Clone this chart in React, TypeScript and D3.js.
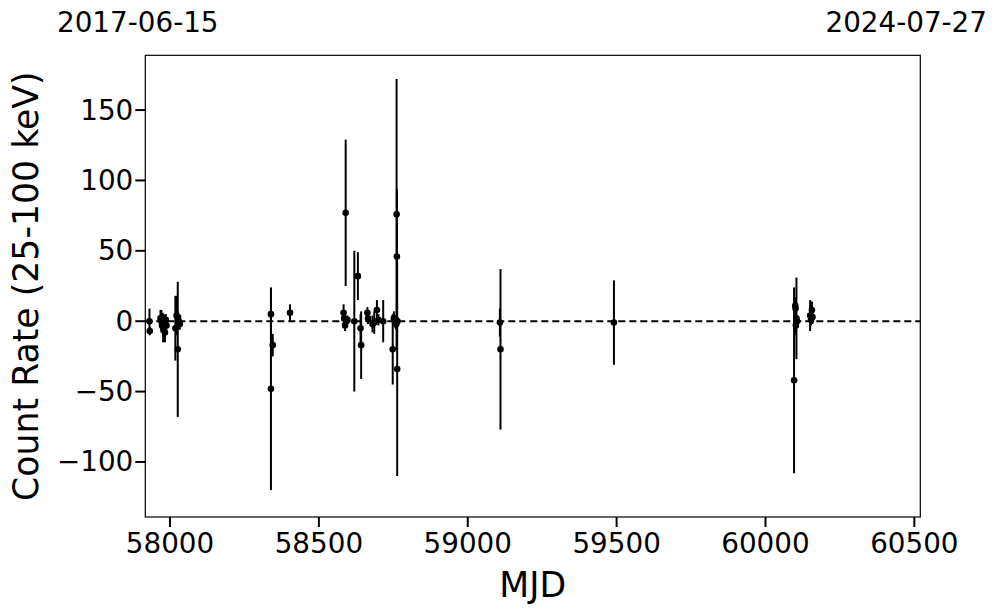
import React from "react";
import * as d3 from "d3";

const mjd = [
  57931, 57932, 57968, 57971, 57973, 57975, 57977, 57980, 57983, 57986, 57988,
  58018, 58022, 58026, 58027, 58030, 58033,
  58339, 58339, 58345, 58403,
  58583, 58585, 58588, 58590, 58592, 58596, 58619, 58631, 58640, 58642,
  58663, 58665, 58680, 58686, 58695, 58700, 58716,
  58748, 58752, 58755, 58757, 58759, 58760, 58761, 58762, 58763, 58764,
  59108, 59110, 59491,
  60096, 60100, 60101, 60102, 60104, 60106, 60150, 60153, 60156, 60158,
];
const rate = [
  0, -7, 2, 0, -3, 3, -5, -1, -8, 1, -3,
  -5, 4, -20, 3, 0, -2,
  5, -48, -17, 6,
  6, 2, -3, 77, 0, 1, 0, 32, -5, -17,
  6, 2, -2, -1, 8, 1, 0,
  -20, 2, 0, -1, 1, -2, 76, 46, -34, 0,
  -1, -20, -1,
  -42, 11, 9, -3, 2, 0, 4, 1, 8, 3,
];
const err = [
  9, 3, 6, 8, 5, 3, 10, 4, 7, 4, 3,
  23, 14, 48, 4, 3, 4,
  18, 72, 8, 6,
  6, 4, 4, 52, 3, 3, 50, 17, 10, 24,
  4, 4, 6, 8, 7, 4, 15,
  25, 5, 3, 4, 3, 4, 96, 48, 76, 3,
  10, 57, 30,
  66, 6, 5, 7, 29, 4, 11, 4, 6, 5,
];
const xTicks = [58000, 58500, 59000, 59500, 60000, 60500];
const yTicks = [-100, -50, 0, 50, 100, 150];
const startDate = "2017-06-15";
const endDate = "2024-07-27";

const W = 997;
const H = 613;
const left = 145.3;
const right = 920.3;
const top = 55.3;
const bottom = 517;
const FONT = "DejaVu Sans, sans-serif";

export default function App() {
  const x = d3.scaleLinear().domain([57917, 60520]).range([left, right]);
  const y = d3.scaleLinear().domain([-139.1, 188.9]).range([bottom, top]);
  const fmt = (v: number) => (v < 0 ? "\u2212" + Math.abs(v) : String(v));
  const tickLen = 10;
  const tickFont = 27.8;
  return (
    <svg width={W} height={H} style={{ position: "absolute", left: 0, top: 0, background: "#fff" }}>
      <rect x={0} y={0} width={W} height={H} fill="#fff" />
      <line x1={left} x2={right} y1={y(0)} y2={y(0)} stroke="#000" strokeWidth={2} strokeDasharray="7,4" />
      {mjd.map((m, i) => (
        <line key={"e" + i} x1={x(m)} x2={x(m)} y1={y(rate[i] + err[i])} y2={y(rate[i] - err[i])} stroke="#000" strokeWidth={2} />
      ))}
      {mjd.map((m, i) => (
        <circle key={"p" + i} cx={x(m)} cy={y(rate[i])} r={3.3} fill="#000" />
      ))}
      <rect x={left} y={top} width={right - left} height={bottom - top} fill="none" stroke="#000" strokeWidth={1.2} />
      {xTicks.map((t) => (
        <g key={"xt" + t}>
          <line x1={x(t)} x2={x(t)} y1={bottom} y2={bottom + tickLen} stroke="#000" strokeWidth={2} />
          <text x={x(t)} y={bottom + tickLen + 5} fontSize={tickFont} fontFamily={FONT} textAnchor="middle" dominantBaseline="hanging">{fmt(t)}</text>
        </g>
      ))}
      {yTicks.map((t) => (
        <g key={"yt" + t}>
          <line x1={left - tickLen} x2={left} y1={y(t)} y2={y(t)} stroke="#000" strokeWidth={2} />
          <text x={left - tickLen - 2} y={y(t)} fontSize={tickFont} fontFamily={FONT} textAnchor="end" dominantBaseline="central">{fmt(t)}</text>
        </g>
      ))}
      <text x={(left + right) / 2} y={597} fontSize={34.7} fontFamily={FONT} textAnchor="middle">MJD</text>
      <text transform={`translate(38,${(top + bottom) / 2}) rotate(-90)`} fontSize={34.7} fontFamily={FONT} textAnchor="middle">Count Rate (25-100 keV)</text>
      <text x={57} y={32} fontSize={27.8} fontFamily={FONT} textAnchor="start">{startDate}</text>
      <text x={987} y={32} fontSize={27.8} fontFamily={FONT} textAnchor="end">{endDate}</text>
    </svg>
  );
}
